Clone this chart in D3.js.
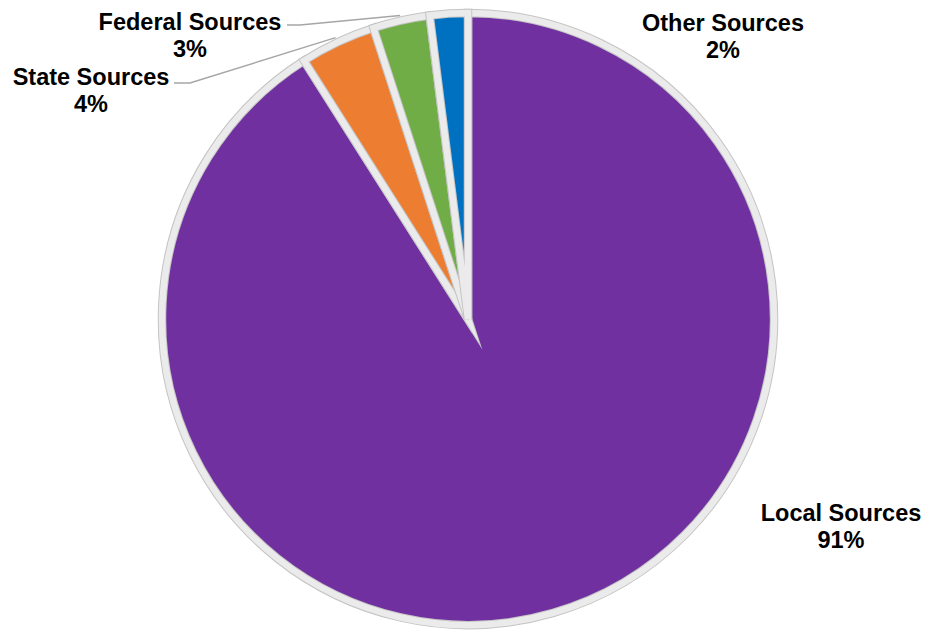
<!DOCTYPE html>
<html>
<head>
<meta charset="utf-8">
<script src="https://cdn.jsdelivr.net/npm/d3@7/dist/d3.min.js"></script>
<style>
  html, body { margin: 0; padding: 0; background: #fff; }
  svg { display: block; }
  text { font-family: "Liberation Sans", Arial, sans-serif; font-weight: bold; fill: #000; }
</style>
</head>
<body>
<svg id="chart" width="927" height="630"></svg>
<script>
// Revenue share by source (percent)
const categories = ["Local Sources", "State Sources", "Federal Sources", "Other Sources"];
const values = [91, 4, 3, 2];
const colors = ["#7030a0", "#ed7d31", "#70ad47", "#0070c0"];

const width = 927, height = 630;
const cx = 468, cy = 319, radius = 306;

const svg = d3.select("#chart");
const g = svg.append("g").attr("transform", `translate(${cx},${cy})`);

const data = categories.map((c, i) => ({ name: c, value: values[i], color: colors[i] }));

const pie = d3.pie().sort(null).value(d => d.value)
  .startAngle(0).endAngle(2 * Math.PI);
const arcs = pie(data);
const arc = d3.arc().innerRadius(0).outerRadius(radius);

// slices: fill, then a grey outline band with a faint darker rim
const slices = g.selectAll("g.slice").data(arcs).join("g").attr("class", "slice");
slices.append("path")
  .attr("d", arc)
  .attr("fill", d => d.data.color)
  .attr("stroke", "#c4c4c4")
  .attr("stroke-width", 8.5)
  .attr("stroke-linejoin", "miter")
  .attr("stroke-miterlimit", 9);
slices.append("path")
  .attr("d", arc)
  .attr("fill", "none")
  .attr("stroke", "#ebebeb")
  .attr("stroke-width", 6.5)
  .attr("stroke-linejoin", "miter")
  .attr("stroke-miterlimit", 9);

// label layout: anchor (centre x, first baseline) and optional leader start
const labelLayout = {
  "Local Sources":   { x: 841, y: 521 },
  "State Sources":   { x: 91,  y: 85, leader: [174, 83, 190] },
  "Federal Sources": { x: 190, y: 30, leader: [287, 25, 300] },
  "Other Sources":   { x: 723, y: 31 }
};

const lineH = 27;
arcs.forEach(d => {
  const L = labelLayout[d.data.name];
  const t = svg.append("text")
    .attr("text-anchor", "middle")
    .attr("font-size", 23.5);
  t.append("tspan").attr("x", L.x).attr("y", L.y).text(d.data.name);
  t.append("tspan").attr("x", L.x).attr("y", L.y + lineH).text(d.data.value + "%");

  if (L.leader) {
    const mid = (d.startAngle + d.endAngle) / 2;
    const r = radius + 5;
    const ex = cx + r * Math.sin(mid);
    const ey = cy - r * Math.cos(mid);
    const [x0, y0, x1] = L.leader;
    svg.append("path")
      .attr("d", d3.line()([[x0, y0], [x1, y0], [ex, ey]]))
      .attr("fill", "none")
      .attr("stroke", "#a6a6a6")
      .attr("stroke-width", 1.5);
  }
});
</script>
</body>
</html>
